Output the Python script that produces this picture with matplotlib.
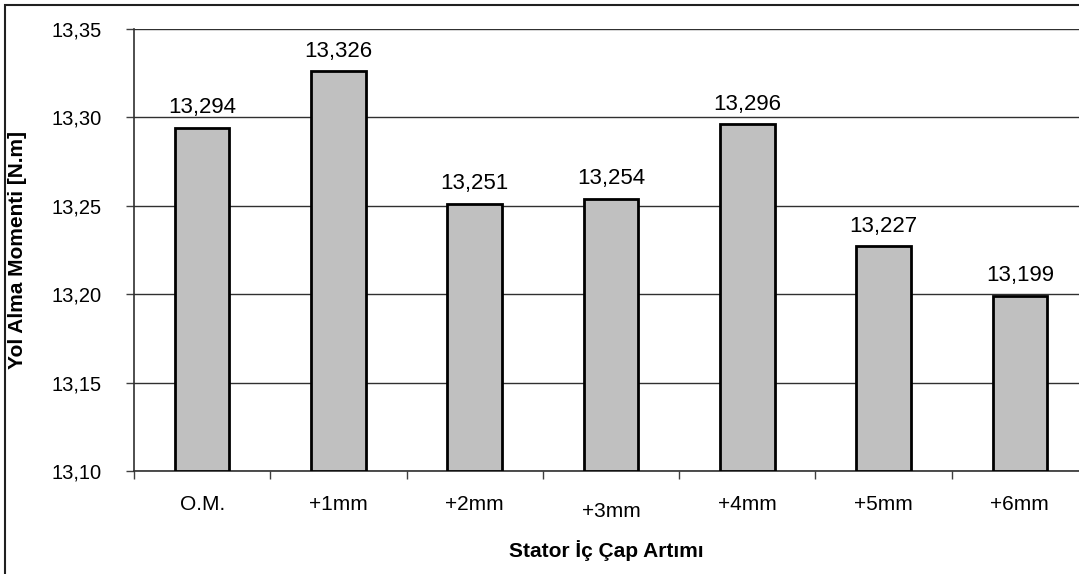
import matplotlib.pyplot as plt
from matplotlib.patches import Rectangle
from matplotlib.transforms import ScaledTranslation

plt.rcParams['font.family'] = ['Liberation Sans', 'DejaVu Sans']

# veriler
kategoriler = ['O.M.', '+1mm', '+2mm', '+3mm', '+4mm', '+5mm', '+6mm']
momentler = [13.294, 13.326, 13.251, 13.254, 13.296, 13.227, 13.199]
y_ticks = [13.10, 13.15, 13.20, 13.25, 13.30, 13.35]

fig = plt.figure(figsize=(10.79, 5.74), dpi=100)
ax = fig.add_axes([134 / 1079, 1 - 471 / 574, 954 / 1079, 442 / 574])

x = range(len(kategoriler))
ax.bar(x, [m - 13.10 for m in momentler], bottom=13.10, width=0.4,
       color='#C0C0C0', edgecolor='black', linewidth=2, zorder=3)

# değer etiketleri
for xi, m in zip(x, momentler):
    ax.annotate(f'{m:.3f}'.replace('.', ','), (xi, m), xytext=(0, 7),
                textcoords='offset points', ha='center', va='bottom', fontsize=16)

ax.set_xlim(-0.5, len(kategoriler) - 0.5)
ax.set_ylim(13.10, 13.35)
ax.set_yticks(y_ticks)
ax.set_yticklabels([f'{t:.2f}'.replace('.', ',') for t in y_ticks], fontsize=14.5)
ax.yaxis.grid(True, color='#303030', linewidth=1, zorder=0)

# kategori sınırlarında tik
ax.set_xticks([i - 0.5 for i in x], minor=False)
ax.set_xticklabels([])
ax.set_xticks(list(x), minor=True)
ax.set_xticklabels(kategoriler, minor=True, fontsize=15)
ax.tick_params(axis='x', which='minor', length=0, pad=17)
ax.tick_params(axis='x', which='major', length=6, width=1, color='#404040', direction='out')
ax.tick_params(axis='y', length=6, width=1, color='#404040', direction='out', pad=17)

# +3mm etiketi biraz aşağıda
lbl = ax.xaxis.get_minorticklabels()[3]
lbl.set_transform(lbl.get_transform() + ScaledTranslation(0, -7 / 100, fig.dpi_scale_trans))

for s in ['top', 'right']:
    ax.spines[s].set_visible(False)
ax.spines['left'].set_color('#303030')
ax.spines['bottom'].set_color('#303030')
ax.spines['left'].set_linewidth(1.2)
ax.spines['bottom'].set_linewidth(1.2)

fig.text(18 / 1079, 1 - 250 / 574, 'Yol Alma Momenti [N.m]', rotation=90,
         ha='center', va='center', fontsize=15, fontweight='bold')
fig.text(606 / 1079, 1 - 551 / 574, 'Stator İç Çap Artımı',
         ha='center', va='center', fontsize=15, fontweight='bold')

# dış çerçeve
fig.patches.append(Rectangle((5 / 1079, -0.1), 1.2, 1.1 - 5 / 574, transform=fig.transFigure,
                             fill=False, edgecolor='#202020', linewidth=1.5))

fig.savefig('out.png', dpi=100)
